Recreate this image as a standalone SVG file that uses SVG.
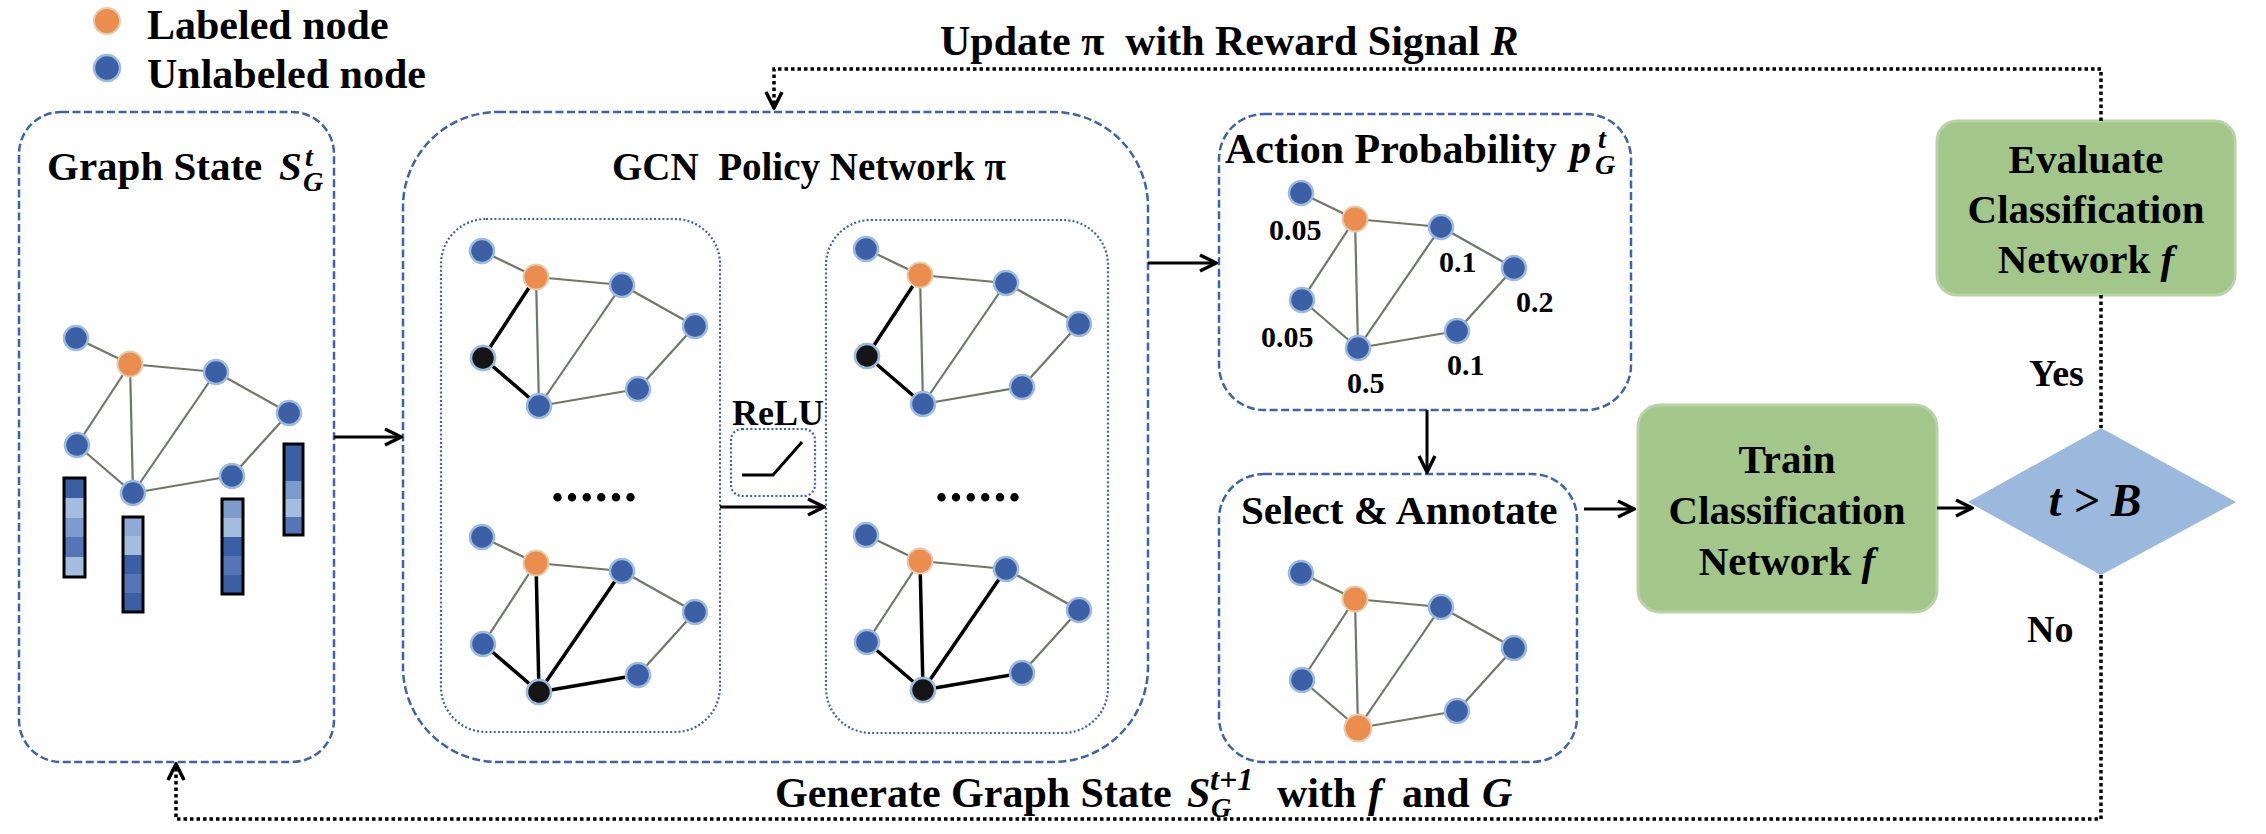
<svg xmlns="http://www.w3.org/2000/svg" xmlns:xlink="http://www.w3.org/1999/xlink" width="2266" height="834" viewBox="0 0 2266 834">
<style>
.t{font-family:"Liberation Serif","Times New Roman",serif;font-weight:bold;fill:#000}
.i{font-style:italic}
.box{fill:none;stroke:#3d63aa;stroke-width:2.5;stroke-dasharray:8 3.5}
.inner{fill:none;stroke:#3d63aa;stroke-width:2.2;stroke-dasharray:2 2.2}
.e{stroke:#6f7868;stroke-width:2.2}
.k{stroke:#000;stroke-width:3.5}
.nb{fill:#3b60a6;stroke:#9dbbe0;stroke-width:2.5}
.no{fill:#ec8d50;stroke:#e3cdb0;stroke-width:2}
.nk{fill:#151515;stroke:#9dbbe0;stroke-width:2.5}
.conn{fill:none;stroke:#000;stroke-width:3}
.dot{fill:none;stroke:#000;stroke-width:3.5;stroke-dasharray:3.5 3}
.green{fill:#a3c78a;stroke:#b9d2a6;stroke-width:3}
.bo{fill:none;stroke:#000;stroke-width:3}
.d{fill:#3b5fa5}.l{fill:#a3bddf}.m{fill:#7d9cce}.dm{fill:#5575b6}.lm{fill:#8eaad6}
</style>
<defs>
<marker id="ah" viewBox="0 0 20 20" refX="18" refY="10" markerWidth="20" markerHeight="20" markerUnits="userSpaceOnUse" orient="auto">
<path d="M2,2 L18,10 L2,18" fill="none" stroke="#000" stroke-width="3.5" stroke-dasharray="none"/>
</marker>
<g id="edges">
<line class="e" x1="76" y1="338" x2="130" y2="364"/>
<line class="e" x1="130" y1="364" x2="216" y2="372"/>
<line class="e" x1="130" y1="364" x2="77" y2="445"/>
<line class="e" x1="130" y1="364" x2="133" y2="493"/>
<line class="e" x1="216" y1="372" x2="289" y2="413"/>
<line class="e" x1="216" y1="372" x2="133" y2="493"/>
<line class="e" x1="289" y1="413" x2="232" y2="476"/>
<line class="e" x1="232" y1="476" x2="133" y2="493"/>
<line class="e" x1="77" y1="445" x2="133" y2="493"/>
</g>
<g id="nodes">
<circle class="nb" cx="76" cy="338" r="12"/>
<circle class="no" cx="130" cy="364" r="12.5"/>
<circle class="nb" cx="216" cy="372" r="12"/>
<circle class="nb" cx="289" cy="413" r="12"/>
<circle class="nb" cx="77" cy="445" r="12"/>
<circle class="nb" cx="133" cy="493" r="12"/>
<circle class="nb" cx="232" cy="476" r="12"/>
</g>
<g id="gTop">
<use xlink:href="#edges"/>
<line class="k" x1="130" y1="364" x2="77" y2="445"/>
<line class="k" x1="77" y1="445" x2="133" y2="493"/>
<use xlink:href="#nodes"/>
<circle class="nk" cx="77" cy="445" r="12"/>
</g>
<g id="gBot">
<use xlink:href="#edges"/>
<line class="k" x1="77" y1="445" x2="133" y2="493"/>
<line class="k" x1="130" y1="364" x2="133" y2="493"/>
<line class="k" x1="216" y1="372" x2="133" y2="493"/>
<line class="k" x1="232" y1="476" x2="133" y2="493"/>
<use xlink:href="#nodes"/>
<circle class="nk" cx="133" cy="493" r="12"/>
</g>
</defs>
<rect width="2266" height="834" fill="#fff"/>

<g id="legend">
<circle class="no" cx="107" cy="21" r="13"/>
<circle class="nb" cx="107" cy="68" r="13"/>
<text class="t" x="147" y="39" font-size="42">Labeled node</text>
<text class="t" x="147" y="88" font-size="42">Unlabeled node</text>
</g>

<g id="graph-state">
<rect class="box" x="19" y="112" width="315" height="650" rx="42"/>
<text class="t" x="47" y="180" font-size="41">Graph State<tspan class="i" x="279">S</tspan><tspan class="i" x="305" dy="-14" font-size="28">t</tspan><tspan class="i" x="303" dy="25" font-size="28">G</tspan></text>
<use xlink:href="#edges"/>
<use xlink:href="#nodes"/>
<rect class="d" x="64" y="478" width="21" height="20"/><rect class="l" x="64" y="498" width="21" height="20"/><rect class="m" x="64" y="518" width="21" height="19"/><rect class="dm" x="64" y="537" width="21" height="20"/><rect class="l" x="64" y="557" width="21" height="20"/>
<rect class="bo" x="64" y="478" width="21" height="99"/>
<rect class="lm" x="123" y="517" width="20" height="19"/><rect class="l" x="123" y="536" width="20" height="19"/><rect class="d" x="123" y="555" width="20" height="19"/><rect class="dm" x="123" y="574" width="20" height="19"/><rect class="d" x="123" y="593" width="20" height="19"/>
<rect class="bo" x="123" y="517" width="20" height="95"/>
<rect class="m" x="222" y="499" width="21" height="19"/><rect class="l" x="222" y="518" width="21" height="19"/><rect class="d" x="222" y="537" width="21" height="19"/><rect class="dm" x="222" y="556" width="21" height="19"/><rect class="d" x="222" y="575" width="21" height="19"/>
<rect class="bo" x="222" y="499" width="21" height="95"/>
<rect class="d" x="284" y="444" width="19" height="37"/><rect class="m" x="284" y="481" width="19" height="18"/><rect class="l" x="284" y="499" width="19" height="18"/><rect class="dm" x="284" y="517" width="19" height="18"/>
<rect class="bo" x="284" y="444" width="19" height="91"/>
</g>

<g id="gcn-policy">
<rect class="box" x="403" y="112" width="745" height="650" rx="95"/>
<text class="t" x="612" y="180" font-size="39" xml:space="preserve">GCN  Policy Network π</text>
<rect class="inner" x="441" y="219" width="279" height="513" rx="45"/>
<rect class="inner" x="826" y="220" width="282" height="513" rx="45"/>
<use xlink:href="#gTop" transform="translate(406,-87)"/>
<use xlink:href="#gBot" transform="translate(406,199)"/>
<use xlink:href="#gTop" transform="translate(790,-89)"/>
<use xlink:href="#gBot" transform="translate(790,197)"/>
<text class="t" x="551" y="501" font-size="52" letter-spacing="1.6">......</text>
<text class="t" x="935" y="501" font-size="52" letter-spacing="1.6">......</text>
</g>

<g id="relu">
<text class="t" x="732" y="425" font-size="36">ReLU</text>
<rect class="inner" x="731" y="429" width="84" height="67" rx="11"/>
<polyline points="742,475 773,475 802,442" fill="none" stroke="#000" stroke-width="3"/>
</g>

<g id="action-prob">
<rect class="box" x="1219" y="114" width="412" height="296" rx="45"/>
<text class="t" x="1225" y="163" font-size="42">Action Probability<tspan class="i" x="1570">p</tspan><tspan class="i" x="1598" dy="-15" font-size="28">t</tspan><tspan class="i" x="1595" dy="26" font-size="28">G</tspan></text>
<g transform="translate(1225,-145)">
<use xlink:href="#edges"/>
<use xlink:href="#nodes"/>
</g>
<text class="t" x="1269" y="240" font-size="30">0.05</text>
<text class="t" x="1439" y="272" font-size="30">0.1</text>
<text class="t" x="1516" y="312" font-size="30">0.2</text>
<text class="t" x="1261" y="347" font-size="30">0.05</text>
<text class="t" x="1347" y="393" font-size="30">0.5</text>
<text class="t" x="1447" y="375" font-size="30">0.1</text>
</g>

<g id="select-annotate">
<rect class="box" x="1219" y="474" width="358" height="288" rx="45"/>
<text class="t" x="1241" y="524" font-size="41">Select &amp; Annotate</text>
<g transform="translate(1225,235)">
<use xlink:href="#edges"/>
<use xlink:href="#nodes"/>
<circle class="no" cx="133" cy="493" r="13.5"/>
</g>
</g>

<g id="train">
<rect class="green" x="1638" y="405" width="299" height="207" rx="22"/>
<text class="t" x="1787" y="473" font-size="41" text-anchor="middle">Train</text>
<text class="t" x="1787" y="524" font-size="41" text-anchor="middle">Classification</text>
<text class="t" x="1787" y="575" font-size="41" text-anchor="middle">Network <tspan class="i">f</tspan></text>
</g>

<g id="evaluate">
<rect class="green" x="1937" y="121" width="298" height="174" rx="20"/>
<text class="t" x="2086" y="173" font-size="41" text-anchor="middle">Evaluate</text>
<text class="t" x="2086" y="223" font-size="41" text-anchor="middle">Classification</text>
<text class="t" x="2086" y="273" font-size="41" text-anchor="middle">Network <tspan class="i">f</tspan></text>
</g>

<g id="decision">
<polygon points="1968,502 2101,428 2236,502 2101,575" fill="#9bb9dc"/>
<text class="t i" x="2095" y="516" font-size="46" text-anchor="middle">t &gt; B</text>
</g>

<g id="connectors">
<path class="conn" d="M334,437 H401" marker-end="url(#ah)"/>
<path class="conn" d="M720,507 H824" marker-end="url(#ah)"/>
<path class="conn" d="M1148,263 H1216" marker-end="url(#ah)"/>
<path class="conn" d="M1427,410 V472" marker-end="url(#ah)"/>
<path class="conn" d="M1584,509 H1634" marker-end="url(#ah)"/>
<path class="conn" d="M1937,508 H1972" marker-end="url(#ah)"/>
<path class="dot" d="M2101,121 V69 H774 V108" marker-end="url(#ah)"/>
<path class="dot" d="M2101,295 V428"/>
<path class="dot" d="M2101,575 V819 H176 V764" marker-end="url(#ah)"/>
</g>

<g id="connector-labels">
<text class="t" x="940" y="55" font-size="42" xml:space="preserve">Update π  with Reward Signal <tspan class="i">R</tspan></text>
<text class="t" x="2029" y="386" font-size="38">Yes</text>
<text class="t" x="2027" y="642" font-size="38">No</text>
<text class="t" x="775" y="807" font-size="42">Generate Graph State<tspan class="i" x="1187">S</tspan><tspan class="i" x="1210" dy="-17" font-size="32">t+1</tspan><tspan class="i" x="1211" dy="27" font-size="28">G</tspan><tspan x="1277" dy="-10">with</tspan><tspan class="i" x="1368">f</tspan><tspan x="1402">and</tspan><tspan class="i" x="1482">G</tspan></text>
</g>
</svg>
